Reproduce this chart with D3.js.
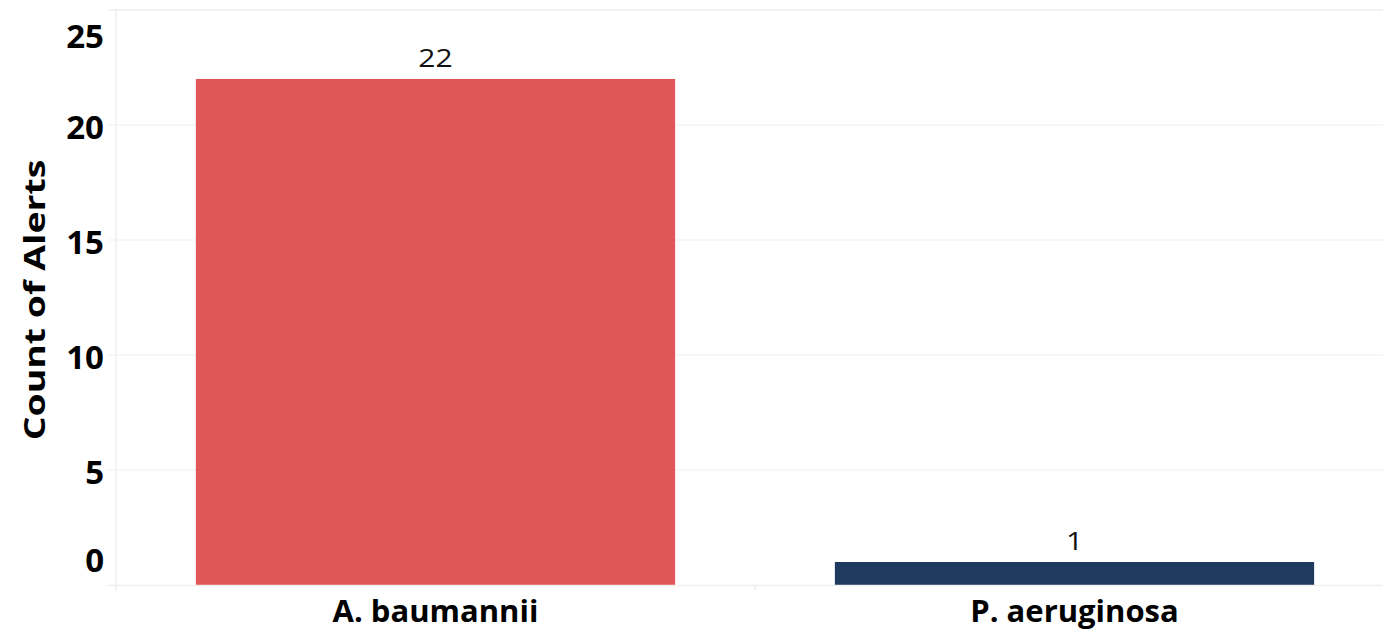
<!DOCTYPE html>
<html>
<head>
<meta charset="utf-8">
<script src="https://cdn.jsdelivr.net/npm/d3@7"></script>
<style>
  html, body { margin: 0; padding: 0; background: #fff; }
  svg { display: block; font-family: "Open Sans", sans-serif; }
</style>
</head>
<body>
<svg id="chart" width="1383" height="630"></svg>
<script>
const categories = ["A. baumannii", "P. aeruginosa"];
const counts = [22, 1];
const barColors = ["#e15759", "#1f3a5f"];
const yTicks = [0, 5, 10, 15, 20, 25];
const yTitle = "Count of Alerts";

const svg = d3.select("#chart");
const plotLeft = 116, plotRight = 1394, plotTop = 10, plotBottom = 585;

const x = d3.scaleBand().domain(categories).range([plotLeft, plotRight])
  .paddingInner(0.25).paddingOuter(0.125);
const y = d3.scaleLinear().domain([0, 25]).range([plotBottom, plotTop]);

// top border
svg.append("line").attr("x1", 108).attr("x2", 1383).attr("y1", plotTop).attr("y2", plotTop)
  .attr("stroke", "#efefef").attr("stroke-width", 1.5);

// gridlines
svg.append("g").selectAll("line").data(yTicks.filter(d => d > 0 && d < 25)).join("line")
  .attr("x1", 108).attr("x2", 1383)
  .attr("y1", d => y(d)).attr("y2", d => y(d))
  .attr("stroke", "#efefef").attr("stroke-width", 1);

// left axis line
svg.append("line").attr("x1", plotLeft).attr("x2", plotLeft).attr("y1", plotTop).attr("y2", 591)
  .attr("stroke", "#efefef").attr("stroke-width", 1.5);

// y tick labels
svg.append("g").selectAll("text").data(yTicks).join("text")
  .attr("x", 104)
  .attr("y", d => d === 0 ? y(d) - 25 : (d === 25 ? y(d) + 26 : y(d) + 2))
  .attr("dy", "0.35em")
  .attr("text-anchor", "end")
  .attr("font-size", 33).attr("font-weight", 700).attr("fill", "#000")
  .text(d => d);

// bars
svg.append("g").selectAll("rect").data(counts).join("rect")
  .attr("x", (d, i) => x(categories[i]))
  .attr("width", x.bandwidth())
  .attr("y", d => y(d))
  .attr("height", d => y(0) - y(d))
  .attr("fill", (d, i) => barColors[i]);

// zero line
svg.append("line").attr("x1", 108).attr("x2", 1383).attr("y1", plotBottom + 0.5).attr("y2", plotBottom + 0.5)
  .attr("stroke", "#efefef").attr("stroke-width", 1.5);

// x category tick between bands
const midX = (x(categories[0]) + x.bandwidth() + x(categories[1])) / 2;
svg.append("line").attr("x1", midX).attr("x2", midX)
  .attr("y1", plotBottom).attr("y2", 591).attr("stroke", "#efefef").attr("stroke-width", 1.5);

// value labels
svg.append("g").selectAll("text").data(counts).join("text")
  .attr("transform", (d, i) => `translate(${x(categories[i]) + x.bandwidth() / 2},${y(d) - 12}) scale(1.2,1)`)
  .attr("text-anchor", "middle")
  .attr("font-size", 25).attr("fill", "#111")
  .text(d => d);

// x labels
svg.append("g").selectAll("text").data(categories).join("text")
  .attr("x", d => x(d) + x.bandwidth() / 2)
  .attr("y", 622)
  .attr("text-anchor", "middle")
  .attr("font-size", 31).attr("font-weight", 700).attr("fill", "#000")
  .text(d => d);

// y title
svg.append("text")
  .attr("transform", "translate(45,300) rotate(-90) scale(1.29,1)")
  .attr("text-anchor", "middle")
  .attr("font-size", 29).attr("font-weight", 700).attr("fill", "#000")
  .text(yTitle);
</script>
</body>
</html>
